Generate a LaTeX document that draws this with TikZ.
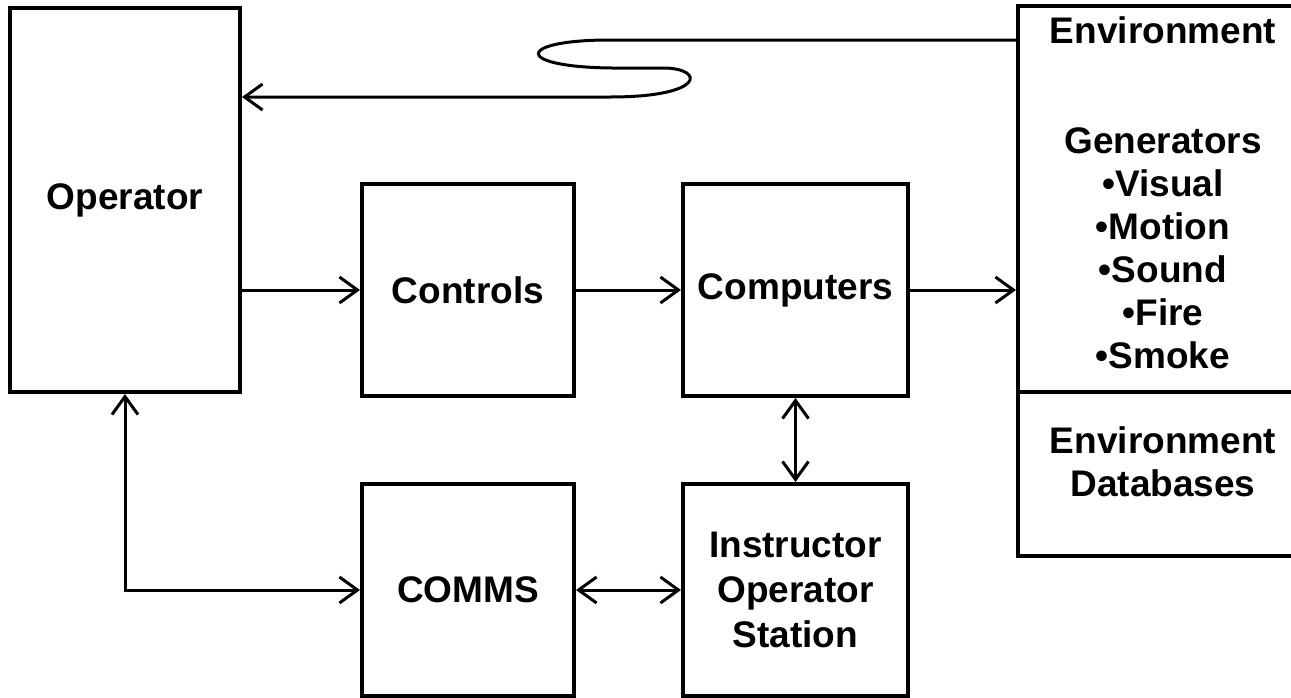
\documentclass[tikz,border=0pt]{standalone}
\usepackage{fontspec}
\setmainfont{Liberation Sans}
\usetikzlibrary{arrows.meta}

\begin{document}
\begin{tikzpicture} [
                x=0.5pt,
                y=-0.5pt,
                box text/.style = {align=center,inner sep=0pt,font=\bfseries\fontsize{18.5}{21.5}\selectfont},
                box/.style = {box text,draw,line width=2pt,rectangle},
                small box/.style = {box,minimum width=106pt,minimum height=106pt},
                wide box/.style = {small box,minimum width=112.5pt},
                vtip/.tip = {Straight Barb[length=9pt,width=13pt,line width=1.5pt]},
                edge/.style = {draw,line width=1.5pt,-{vtip}},
                both edge/.style = {edge,{vtip}-{vtip}}
            ]
            \useasboundingbox (0,0) rectangle (1291,697);
            % First we draw the boxes
            \node[box,minimum width=115pt,minimum height=192pt] (operator) at (125,200) {Operator};
            \node[small box] (controls) at (468,290) {Controls};
            \node[small box] (comms) at (468,590) {COMMS};
            \node[wide box] (computers) at (795.5,290) {Computers};
            \node[wide box] (ios) at (795.5,590) {Instructor\\[1pt]Operator\\[1pt]Station};
            \node[box,minimum width=145pt,minimum height=193pt] (envgen) at (1163,199) {};
            \node[box,minimum width=145pt,minimum height=82pt] (envdb) at (1163,474) {};
            % text of the environment boxes
            \node[box text] (envgentext) at ([yshift=3.25pt]envgen.center)
                {Environment\\[33.5pt]Generators\\\textbullet Visual\\\textbullet Motion\\\textbullet Sound\\\textbullet Fire\\\textbullet Smoke};
            \node[box text] (envdbtext) at ([yshift=6.25pt]envdb.center) {Environment\\Databases};
            % Connect boxes with arrows
            \path[edge] (controls.west -| operator.east) -- (controls.west);
            \path[edge] (controls) -- (computers);
            \path[edge] (computers.east) -- (computers.east -| envgen.west);
            \path[both edge] (computers) -- (ios);
            \path[both edge] (comms) -- (ios);
            \path[both edge] (operator.south) |- (comms.west);
            % the looped feedback line
            \path[edge] (envgen.west |- 0,40) -- (605,40)
                .. controls (515,41) and (515,67) .. (612,68) -- (665,68)
                .. controls (705,69) and (705,97) .. (610,97)
                -- (operator.east |- 0,97);
        \end{tikzpicture}
\end{document}
